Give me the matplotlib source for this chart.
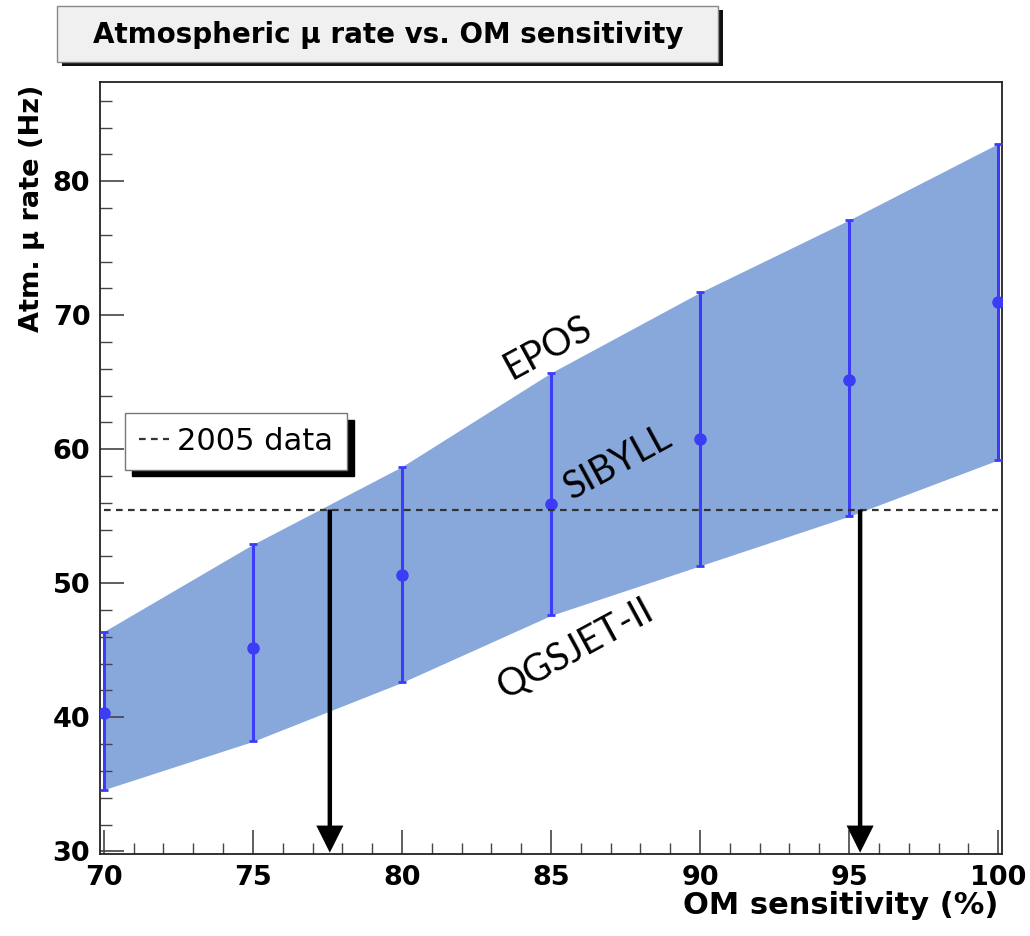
import matplotlib
matplotlib.use("Agg")
import matplotlib.pyplot as plt
import numpy as np
from matplotlib.patches import Rectangle
from matplotlib.ticker import MultipleLocator

# ---- data ----
sensitivity = [70, 75, 80, 85, 90, 95, 100]
rate_sibyll = [40.3, 45.2, 50.6, 55.9, 60.8, 65.2, 71.0]
rate_epos = [46.4, 52.9, 58.7, 65.7, 71.7, 77.1, 82.8]
rate_qgsjet = [34.6, 38.2, 42.6, 47.6, 51.3, 55.0, 59.2]
data_2005 = 55.5
arrow_x = [77.58, 95.37]
model_labels = ["EPOS", "SIBYLL", "QGSJET-II"]
label_pos = [(84.9, 67.6), (87.25, 59.0), (85.8, 45.1)]

W, H = 1030, 936
fig = plt.figure(figsize=(W / 100, H / 100), dpi=100)
fig.patch.set_facecolor("white")

def fx(px):
    return px / W

def fy(py):
    return 1 - py / H

ax = fig.add_axes([fx(100), fy(854), fx(1002) - fx(100), fy(82) - fy(854)])

x = np.array(sensitivity)
y = np.array(rate_sibyll)
up = np.array(rate_epos)
lo = np.array(rate_qgsjet)

ax.fill_between(x, lo, up, color="#88a8dc", lw=0, zorder=1)
ax.errorbar(x, y, yerr=[y - lo, up - y], fmt="o", color="#3c3cf8", ms=8,
            elinewidth=2.2, capsize=3.0, capthick=2.0, zorder=3)
ax.hlines(data_2005, 70, 100, colors="#333333", linestyles=(0, (3, 2.4)),
          lw=1.6, zorder=4, label="2005 data")

for a_x in arrow_x:
    ax.annotate("", xy=(a_x, 29.9), xytext=(a_x, data_2005),
                arrowprops=dict(width=3.2, headwidth=19.5, headlength=19.5,
                                facecolor="black", edgecolor="none", lw=0,
                                shrink=0),
                zorder=5)

for lab, (lx, ly) in zip(model_labels, label_pos):
    ax.text(lx, ly, lab, rotation=28.5, ha="center", va="center",
            fontsize=27, family="Lato", color="black", zorder=6,
            rotation_mode="anchor")

ax.set_xlim(69.87, 100.13)
ax.set_ylim(29.8, 87.4)
ax.xaxis.set_major_locator(MultipleLocator(5))
ax.xaxis.set_minor_locator(MultipleLocator(1))
ax.yaxis.set_major_locator(MultipleLocator(10))
ax.yaxis.set_minor_locator(MultipleLocator(2))
ax.tick_params(axis="both", which="both", direction="in", top=False, right=False,
               colors="#444444", labelcolor="black")
ax.tick_params(axis="x", which="major", length=17, width=1.2, pad=8, labelsize=19.5)
ax.tick_params(axis="x", which="minor", length=8, width=1.0)
ax.tick_params(axis="y", which="major", length=17, width=1.2, pad=7, labelsize=19.5)
ax.tick_params(axis="y", which="minor", length=8.5, width=1.0)
for lbl in ax.get_xticklabels() + ax.get_yticklabels():
    lbl.set_fontweight("bold")
for s in ax.spines.values():
    s.set_linewidth(1.3)
    s.set_color("#222222")

ax.set_xlabel("OM sensitivity (%)", fontsize=22, fontweight="bold", ha="right", va="top")
ax.xaxis.set_label_coords((998 - 100) / 902, -(891 - 854) / 772)
ax.set_ylabel("Atm. μ rate (Hz)", fontsize=19.5, fontweight="bold", ha="right", va="bottom",
              rotation_mode="anchor")
ax.yaxis.set_label_coords((45 - 100) / 902, (854 - 85) / 772)

leg = ax.legend(loc="upper left", bbox_to_anchor=(fx(125), fy(413)),
                bbox_transform=fig.transFigure, fontsize=22, frameon=True,
                fancybox=False, framealpha=1, edgecolor="#777777",
                borderpad=0.45, borderaxespad=0, handlelength=1.0,
                handletextpad=0.25,
                shadow={"ox": 5, "oy": -5, "color": "black", "alpha": 1})
leg.get_frame().set_linewidth(1.0)
leg.set_zorder(10)

# title box
fig.patches.append(Rectangle((fx(62), fy(66)), fx(661), fy(0) - fy(56),
                             transform=fig.transFigure, facecolor="#111111",
                             edgecolor="none", zorder=1))
fig.patches.append(Rectangle((fx(57), fy(62)), fx(661), fy(0) - fy(56),
                             transform=fig.transFigure, facecolor="#f0f0f0",
                             edgecolor="#888888", lw=1.0, zorder=2))
fig.text(fx(388), fy(35), "Atmospheric μ rate vs. OM sensitivity", ha="center",
         va="center", fontsize=20, fontweight="bold", zorder=3)

fig.savefig("out.png", dpi=100)
